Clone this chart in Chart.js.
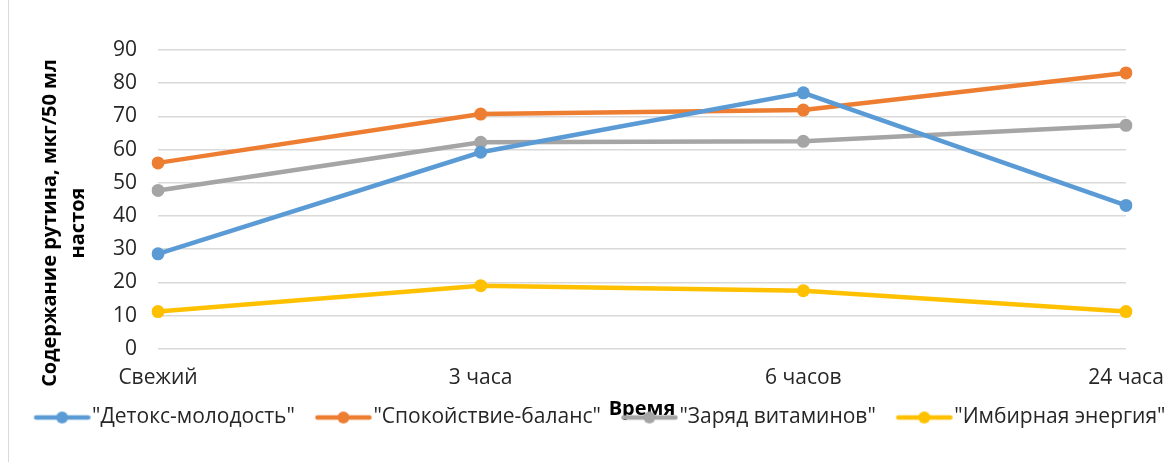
<!DOCTYPE html>
<html>
<head>
<meta charset="utf-8">
<script src="https://cdn.jsdelivr.net/npm/chart.js@4.4.1/dist/chart.umd.min.js"></script>
<style>
    html, body { margin: 0; padding: 0; background: #fff; }
    #wrap { position: relative; width: 1171px; height: 462px; }
    #frame { position: absolute; left: 8px; top: 0; width: 0; height: 462px; border-left: 1px solid #d9d9d9; }
    #rutinChart { position: absolute; left: 0; top: 0; }
</style>
</head>
<body>
<div id="wrap">
    <div id="frame"></div>
    <canvas id="rutinChart" width="1171" height="462"></canvas>
</div>
<script>
// Time points (x axis)
const timeLabels = ['Свежий', '3 часа', '6 часов', '24 часа'];

// Rutin content per tea, mcg/50 ml
const detoxValues = [28.6, 59.2, 77.1, 43.2];
const calmValues = [56.0, 70.7, 71.9, 83.1];
const vitaminValues = [47.7, 62.2, 62.5, 67.3];
const gingerValues = [11.2, 19.0, 17.5, 11.2];

const seriesNames = ['"Детокс-молодость"', '"Спокойствие-баланс"', '"Заряд витаминов"', '"Имбирная энергия"'];
const seriesColors = ['#5B9BD5', '#ED7D31', '#A5A5A5', '#FFC000'];

// Axis titles
const yTitleLines = ['Содержание рутина, мкг/50 мл', 'настоя'];
const xTitle = 'Время';

// Y axis ticks
const yMin = 0;
const yMax = 90;
const yStep = 10;

const fontFamily = '"Open Sans", Lato, sans-serif';

// Legend marker: line with a dot, like Excel.
// The image is wider than the legend box so the line sits right before the text.
function makeLegendMarker(color) {
    const c = document.createElement('canvas');
    c.width = 86;
    c.height = 16;
    const g = c.getContext('2d');
    g.strokeStyle = color;
    g.lineWidth = 4.5;
    g.lineCap = 'round';
    g.beginPath();
    g.moveTo(31.5, 8);
    g.lineTo(83.5, 8);
    g.stroke();
    g.fillStyle = color;
    g.beginPath();
    g.arc(57.5, 8, 6, 0, Math.PI * 2);
    g.fill();
    return c;
}

function makeDataset(i, values) {
    return {
        label: seriesNames[i],
        data: values,
        borderColor: seriesColors[i],
        backgroundColor: seriesColors[i],
        borderWidth: 4.5,
        pointRadius: 6.5,
        pointHoverRadius: 6.5,
        pointBorderWidth: 0,
        tension: 0,
        fill: false
    };
}

// Y axis title drawn where Excel puts it (a bit below the plot centre)
const yTitlePlugin = {
    id: 'yTitle',
    afterDraw(chart) {
        const c = chart.ctx;
        c.save();
        c.fillStyle = '#000';
        c.font = 'bold 20px ' + fontFamily;
        c.textAlign = 'center';
        c.textBaseline = 'middle';
        c.translate(50, 223);
        c.rotate(-Math.PI / 2);
        yTitleLines.forEach((line, i) => c.fillText(line, 0, i * 28));
        c.restore();
    }
};

const ctx = document.getElementById('rutinChart');

new Chart(ctx, {
    type: 'line',
    data: {
        labels: timeLabels,
        datasets: [
            makeDataset(0, detoxValues),
            makeDataset(1, calmValues),
            makeDataset(2, vitaminValues),
            makeDataset(3, gingerValues)
        ]
    },
    plugins: [yTitlePlugin],
    options: {
        responsive: false,
        animation: false,
        layout: {
            padding: { left: 8, right: 0, top: 50, bottom: 24 }
        },
        plugins: {
            tooltip: { enabled: false },
            legend: {
                position: 'bottom',
                labels: {
                    usePointStyle: true,
                    pointStyleWidth: 68,
                    padding: 0,
                    color: '#262626',
                    font: { family: fontFamily, size: 21 },
                    generateLabels(chart) {
                        const items = Chart.defaults.plugins.legend.labels.generateLabels(chart);
                        items.forEach((item, i) => {
                            item.pointStyle = makeLegendMarker(seriesColors[i]);
                        });
                        return items;
                    }
                }
            }
        },
        scales: {
            x: {
                offset: false,
                grid: { display: false, drawTicks: false },
                border: { display: false },
                afterFit(scale) {
                    scale.paddingLeft = 0;
                    scale.paddingRight = 45;
                },
                ticks: {
                    color: '#262626',
                    padding: 17,
                    maxRotation: 0,
                    font: { family: fontFamily, size: 21 }
                },
                title: {
                    display: true,
                    text: xTitle,
                    color: '#000',
                    padding: { top: -11, bottom: -14 },
                    font: { family: fontFamily, size: 20, weight: 'bold' }
                }
            },
            y: {
                min: yMin,
                max: yMax,
                grid: { color: '#D9D9D9', lineWidth: 1.5, drawTicks: false },
                border: { display: false },
                afterFit(scale) {
                    scale.width = 150;
                },
                ticks: {
                    stepSize: yStep,
                    color: '#262626',
                    padding: 21,
                    font: { family: fontFamily, size: 21 }
                }
            }
        }
    }
});
</script>
</body>
</html>
